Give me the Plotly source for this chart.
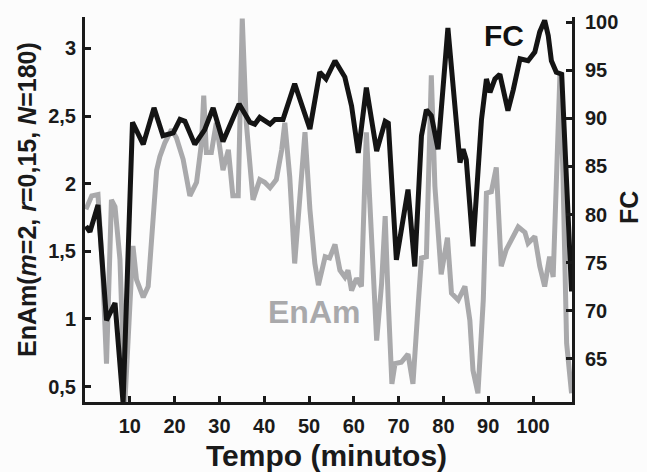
import plotly.graph_objects as go

# ---- data ----
fc_t = [0.2, 1.1, 2.9, 4.8, 6.7, 8.5, 10.6, 13.0, 15.4, 17.4, 19.7, 21.2, 22.3, 24.5, 26.7,
        28.6, 30.8, 34.4, 36.8, 37.9, 39.0, 41.3, 42.4, 44.2, 46.8, 50.2, 52.4, 53.8, 55.8,
        58.0, 59.5, 61.0, 62.8, 65.1, 67.0, 67.7, 69.5, 72.1, 73.6, 75.1, 76.2, 77.3, 78.8,
        81.0, 83.7, 84.4, 85.1, 86.6, 88.5, 89.6, 90.4, 91.5, 92.6, 94.4, 95.6, 97.1, 98.9,
        100.4, 101.5, 102.6, 103.4, 104.1, 105.2, 106.4, 108.6]
fc_v = [78.8, 78.2, 81.0, 69.0, 70.8, 60.4, 89.6, 87.3, 91.1, 88.2, 88.5, 89.9, 89.7, 87.3, 88.8,
        91.1, 87.6, 91.5, 89.6, 89.4, 90.1, 89.4, 89.9, 89.9, 93.6, 88.9, 94.8, 94.1, 96.0,
        94.3, 91.3, 86.4, 93.2, 86.6, 89.7, 89.5, 75.3, 82.6, 74.6, 88.2, 90.9, 90.3, 86.8,
        99.4, 85.4, 86.8, 85.7, 76.7, 89.9, 94.1, 92.7, 94.1, 94.6, 90.8, 93.0, 96.2, 96.0,
        96.9, 99.0, 100.2, 98.6, 96.0, 94.8, 94.6, 72.0]

en_t = [0.2, 1.5, 2.9, 4.0, 4.8, 5.9, 6.7, 7.8, 8.9, 10.7, 11.5, 13.0, 14.1, 16.0, 16.7, 17.8,
        19.3, 20.4, 21.9, 23.4, 24.9, 26.0, 26.5, 27.1, 28.2, 29.3, 30.8, 32.0, 33.0, 34.2,
        35.1, 36.0, 37.5, 39.0, 40.1, 41.3, 42.7, 43.9, 44.6, 45.7, 46.8, 47.9, 49.1, 50.2,
        51.3, 52.1, 53.6, 54.6, 55.8, 56.9, 58.0, 58.7, 59.5, 60.6, 61.7, 62.8, 63.6, 65.1,
        66.2, 67.0, 67.7, 68.5, 69.2, 70.6, 72.1, 73.2, 74.4, 75.1, 76.2, 77.3, 78.1, 79.5,
        80.9, 81.8, 83.3, 84.8, 85.9, 86.6, 87.7, 88.9, 89.6, 90.7, 91.8, 92.9, 94.0, 95.2,
        96.7, 98.2, 98.9, 100.4, 101.5, 102.6, 103.7, 104.5, 105.6, 106.0, 106.7, 107.5, 108.6]
en_v = [1.81, 1.91, 1.92, 1.31, 0.67, 1.88, 1.83, 1.44, 0.38, 1.54, 1.29, 1.16, 1.24, 2.10, 2.20, 2.30,
        2.40, 2.34, 2.18, 1.91, 2.01, 2.30, 2.65, 2.23, 2.23, 2.45, 2.10, 2.25, 1.91, 1.91,
        3.22, 2.45, 1.88, 2.03, 2.01, 1.97, 2.03, 2.25, 2.45, 2.05, 1.41, 1.91, 2.38, 1.81,
        1.41, 1.25, 1.46, 1.45, 1.55, 1.36, 1.31, 1.36, 1.21, 1.30, 1.24, 2.38, 1.81, 0.84,
        1.26, 1.76, 1.12, 0.52, 0.67, 0.68, 0.74, 0.52, 1.12, 1.45, 1.46, 2.80, 1.98, 1.33,
        1.60, 1.19, 1.14, 1.24, 0.99, 0.62, 0.45, 1.14, 1.93, 1.94, 2.12, 1.39, 1.51, 1.59,
        1.68, 1.64, 1.56, 1.61, 1.39, 1.24, 1.46, 1.31, 2.45, 2.80, 2.05, 0.82, 0.45]

x_ticks = [10, 20, 30, 40, 50, 60, 70, 80, 90, 100]
y_ticks = [0.5, 1, 1.5, 2, 2.5, 3]
y_tick_labels = ["0,5", "1", "1,5", "2", "2,5", "3"]
y2_ticks = [65, 70, 75, 80, 85, 90, 95, 100]

FONT = "Liberation Sans, Arial, sans-serif"
GREY = "#a9a9ab"
BLACK = "#141414"

fig = go.Figure()
fig.add_trace(go.Scatter(x=en_t, y=en_v, mode="lines", yaxis="y",
                         line=dict(color=GREY, width=5), showlegend=False))
fig.add_trace(go.Scatter(x=fc_t, y=fc_v, mode="lines", yaxis="y2",
                         line=dict(color=BLACK, width=5), showlegend=False))

W, H = 647, 472
L, R, T, B = 85, 75, 17, 70
pw, ph = W - L - R, H - T - B

def px(x):
    return (x - L) / pw

def py(y):
    return (H - B - y) / ph

tick_font = dict(family=FONT, size=20, color="#1a1a1a", weight="bold")

fig.update_layout(
    width=W, height=H,
    margin=dict(l=L, r=R, t=T, b=B, pad=0),
    paper_bgcolor="#fcfcfc", plot_bgcolor="#fcfcfc",
    xaxis=dict(range=[0, 108.7], tickvals=x_ticks, ticks="inside", ticklen=6, tickwidth=2.5,
               tickcolor="#1a1a1a", showline=True, linecolor="#1a1a1a", linewidth=3,
               showgrid=False, zeroline=False, tickfont=tick_font, ticklabelstandoff=4),
    yaxis=dict(range=[0.386, 3.232], tickvals=y_ticks, ticktext=y_tick_labels, ticks="inside",
               ticklen=6, tickwidth=2.5, tickcolor="#1a1a1a", showline=True,
               linecolor="#1a1a1a", linewidth=3, showgrid=False, zeroline=False,
               tickfont=tick_font, ticklabelstandoff=2),
    yaxis2=dict(range=[60.5, 100.55], tickvals=y2_ticks, overlaying="y", side="right",
                ticks="inside", ticklen=6, tickwidth=2.5, tickcolor="#1a1a1a", showline=True,
                linecolor="#1a1a1a", linewidth=3, showgrid=False, zeroline=False,
                tickfont=tick_font, ticklabelstandoff=6),
)

ann = [
    dict(text="Tempo (minutos)", x=px(326), y=py(455), size=30, color="#1a1a1a", angle=0),
    dict(text="EnAm(<i>m</i>=2, <i>r</i>=0,15, <i>N</i>=180)", x=px(27), y=py(200), size=25,
         color="#1a1a1a", angle=-90),
    dict(text="FC", x=px(629), y=py(208), size=25, color="#1a1a1a", angle=-90),
    dict(text="FC", x=px(504), y=py(35), size=30, color="#111111", angle=0),
    dict(text="EnAm", x=px(314), y=py(312), size=32, color=GREY, angle=0),
]
for a in ann:
    fig.add_annotation(text=a["text"], x=a["x"], y=a["y"], xref="paper", yref="paper",
                       showarrow=False, textangle=a["angle"], xanchor="center", yanchor="middle",
                       font=dict(family=FONT, size=a["size"], color=a["color"], weight="bold"))

fig.write_html("out.html", config={"displayModeBar": False},
               post_script="document.body.style.margin='0';document.body.style.background='#fcfcfc';")
